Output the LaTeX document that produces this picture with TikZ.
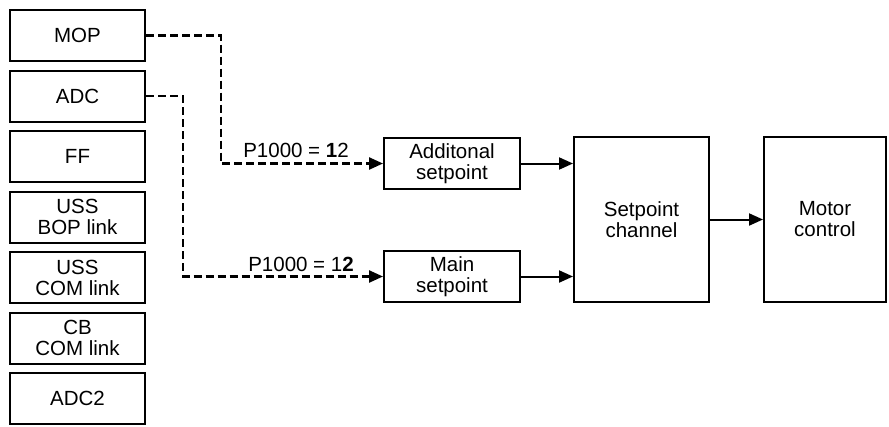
\documentclass[tikz,border=0pt]{standalone}
\usepackage{fontspec}
\setmainfont{Liberation Sans}
\usetikzlibrary{positioning,arrows.meta}

\begin{document}
\begin{tikzpicture}[x=1pt,y=-1pt,
        srcbox/.style={rectangle, draw=black, line width=2pt, minimum width=135pt, minimum height=51pt, align=center, inner sep=0pt, font=\fontsize{20.5}{21}\selectfont},
        blockbox/.style={srcbox, minimum width=136pt},
        sigline/.style={line width=2pt, -{Triangle[length=14pt,width=12pt]}},
        selline/.style={sigline, line width=2.4pt, dash pattern=on 8pt off 4pt},
        parlabel/.style={anchor=base, inner sep=0pt, font=\fontsize{20.5}{21}\selectfont}]

        \useasboundingbox (0,0) rectangle (889,426);

        % source column
        \node[srcbox] (mop) at (77.5,35.5) {MOP};
        \node[srcbox] (adc) [below=7.5pt of mop] {ADC};
        \node[srcbox] (ff) [below=7.5pt of adc] {FF};
        \node[srcbox] (ussbop) [below=7.5pt of ff] {USS\\BOP link};
        \node[srcbox] (usscom) [below=7.5pt of ussbop] {USS\\COM link};
        \node[srcbox] (cbcom) [below=7.5pt of usscom] {CB\\COM link};
        \node[srcbox] (adctwo) [below=7.5pt of cbcom] {ADC2};

        % setpoint blocks
        \node[blockbox] (addsp) at (452,163.5) {Additonal\\setpoint};
        \node[blockbox] (mainsp) at (452,276.5) {Main\\setpoint};
        \node[srcbox, minimum height=165pt] (spchan) at (641.5,219.5) {Setpoint\\channel};
        \node[srcbox, minimum width=122pt, minimum height=165pt] (motor) at (825,219.5) {Motor\\control};

        % parameter selection
        \draw[selline] (mop.east) -- ++(75,0) |- (addsp.west);
        \draw[selline] (adc.east) -- ++(37,0) |- (mainsp.west);
        \node[parlabel] (lbladd) at (296,157) {P1000 = \textbf{1}2};
        \node[parlabel] (lblmain) at (301,271) {P1000 = 1\textbf{2}};

        % signal flow
        \draw[sigline] (addsp.east) -- (addsp.east -| spchan.west);
        \draw[sigline] (mainsp.east) -- (mainsp.east -| spchan.west);
        \draw[sigline] (spchan.east) -- (motor.west);

\end{tikzpicture}
\end{document}
